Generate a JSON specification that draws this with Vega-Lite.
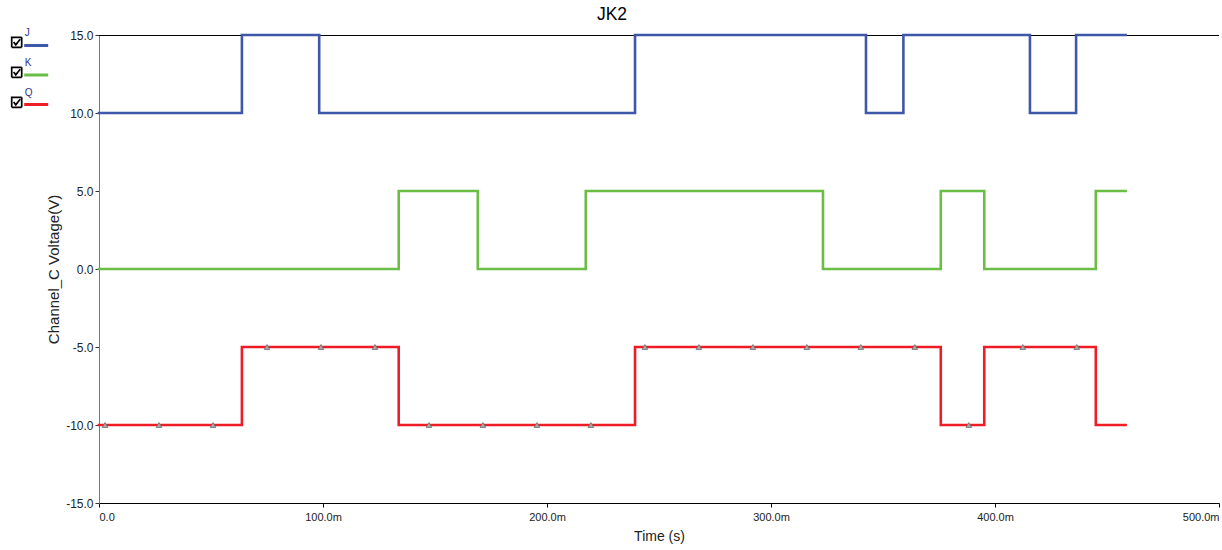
{
  "$schema": "https://vega.github.io/schema/vega-lite/v6.json",
  "width": 1120,
  "height": 468,
  "autosize": "none",
  "padding": {"left": 99, "top": 35, "right": 3, "bottom": 47},
  "background": "white",
  "title": {
    "text": "JK2",
    "font": "Liberation Sans",
    "fontSize": 17.5,
    "fontWeight": "normal",
    "color": "black",
    "anchor": "middle",
    "dx": -47,
    "offset": 6
  },
  "config": {
    "view": {"stroke": null},
    "font": "Liberation Sans",
    "axis": {"grid": false, "labelFont": "Liberation Sans", "titleFont": "Liberation Sans", "labelColor": "#222", "titleColor": "#222", "titleFontWeight": "normal"}
  },
  "datasets": {
    "wave": [
      {"s": "J", "t": 0, "v": 10},
      {"s": "J", "t": 63.8, "v": 15},
      {"s": "J", "t": 98.3, "v": 10},
      {"s": "J", "t": 239.3, "v": 15},
      {"s": "J", "t": 342.4, "v": 10},
      {"s": "J", "t": 359.1, "v": 15},
      {"s": "J", "t": 415.6, "v": 10},
      {"s": "J", "t": 436.2, "v": 15},
      {"s": "J", "t": 458.3, "v": 15},
      {"s": "K", "t": 0, "v": 0},
      {"s": "K", "t": 133.8, "v": 5},
      {"s": "K", "t": 169.1, "v": 0},
      {"s": "K", "t": 217.3, "v": 5},
      {"s": "K", "t": 323.2, "v": 0},
      {"s": "K", "t": 375.8, "v": 5},
      {"s": "K", "t": 395.2, "v": 0},
      {"s": "K", "t": 445.0, "v": 5},
      {"s": "K", "t": 458.3, "v": 5},
      {"s": "Q", "t": 0, "v": -10},
      {"s": "Q", "t": 63.8, "v": -5},
      {"s": "Q", "t": 133.8, "v": -10},
      {"s": "Q", "t": 239.3, "v": -5},
      {"s": "Q", "t": 375.8, "v": -10},
      {"s": "Q", "t": 395.2, "v": -5},
      {"s": "Q", "t": 445.0, "v": -10},
      {"s": "Q", "t": 458.3, "v": -10}
    ],
    "probe": [
      {"t": 2.7, "v": -10},
      {"t": 26.8, "v": -10},
      {"t": 50.9, "v": -10},
      {"t": 75.0, "v": -5},
      {"t": 99.1, "v": -5},
      {"t": 123.2, "v": -5},
      {"t": 147.3, "v": -10},
      {"t": 171.4, "v": -10},
      {"t": 195.5, "v": -10},
      {"t": 219.6, "v": -10},
      {"t": 243.7, "v": -5},
      {"t": 267.8, "v": -5},
      {"t": 291.9, "v": -5},
      {"t": 316.0, "v": -5},
      {"t": 340.1, "v": -5},
      {"t": 364.2, "v": -5},
      {"t": 388.3, "v": -10},
      {"t": 412.4, "v": -5},
      {"t": 436.5, "v": -5}
    ]
  },
  "layer": [
    {
      "data": {"values": [{"v": 15}]},
      "mark": {"type": "rule", "color": "black", "strokeWidth": 1, "yOffset": 0.5},
      "encoding": {
        "y": {"field": "v", "type": "quantitative"}
      }
    },
    {
      "data": {"name": "wave"},
      "mark": {"type": "line", "interpolate": "step-after", "strokeWidth": 2.6, "strokeCap": "square"},
      "encoding": {
        "x": {
          "field": "t",
          "type": "quantitative",
          "scale": {"domain": [0, 500], "nice": false, "zero": false},
          "axis": {
            "title": "Time (s)",
            "values": [0, 100, 200, 300, 400, 500],
            "labelExpr": "datum.value == 0 ? '0.0' : format(datum.value, '.1f') + 'm'",
            "labelAlign": {"expr": "datum.value == 0 ? 'left' : datum.value == 500 ? 'right' : 'center'"},
            "labelFontSize": 11,
            "labelPadding": 4,
            "tickSize": 4,
            "tickColor": "#000",
            "domainColor": "#000",
            "titleFontSize": 14,
            "titlePadding": 7
          }
        },
        "y": {
          "field": "v",
          "type": "quantitative",
          "scale": {"domain": [-15, 15], "nice": false},
          "axis": {
            "title": "Channel_C Voltage(V)",
            "values": [-15, -10, -5, 0, 5, 10, 15],
            "labelExpr": "(datum.value < 0 ? '-' : '') + format(abs(datum.value), '.1f')",
            "labelFontSize": 12,
            "labelPadding": 2,
            "tickSize": 4,
            "tickColor": "#333",
            "domainColor": "#777",
            "titleFontSize": 15,
            "titlePadding": 4
          }
        },
        "color": {
          "field": "s",
          "type": "nominal",
          "scale": {"range": ["#3F57A8", "#6ABD45", "#EE1D25"]},
          "legend": {
            "orient": "none",
            "legendX": -76.3,
            "legendY": -3,
            "title": null,
            "padding": 0,
            "symbolType": "stroke",
            "symbolSize": 576,
            "symbolStrokeWidth": 3,
            "rowPadding": 9.5,
            "labelExpr": "''",
            "labelOffset": 0
          }
        },
        "strokeDash": {
          "field": "s",
          "type": "nominal",
          "scale": {"domain": ["J", "K", "Q"], "range": [[1, 0], [1, 0], [1, 0]]},
          "legend": {
            "orient": "none",
            "legendX": -88.3,
            "legendY": 1.3,
            "title": null,
            "padding": 0,
            "symbolType": "M-1,-1H1V1H-1ZM-0.62,-0.05L-0.18,0.5L0.7,-0.62",
            "symbolSize": 100,
            "symbolStrokeColor": "black",
            "symbolFillColor": "white",
            "symbolStrokeWidth": 1.7,
            "rowPadding": 7,
            "labelFontSize": 10,
            "labelColor": "#2E3192",
            "labelOffset": 2,
            "labelBaseline": "bottom",
            "encode": {"labels": {"update": {"dy": {"value": -4}}}}
          }
        }
      }
    },
    {
      "data": {"name": "probe"},
      "mark": {"type": "point", "shape": "triangle-up", "size": 32, "filled": true, "fill": "#A8A8A8", "stroke": "#6E6E6E", "strokeWidth": 0.8, "opacity": 1},
      "encoding": {
        "x": {"field": "t", "type": "quantitative"},
        "y": {"field": "v", "type": "quantitative"}
      }
    }
  ]
}
